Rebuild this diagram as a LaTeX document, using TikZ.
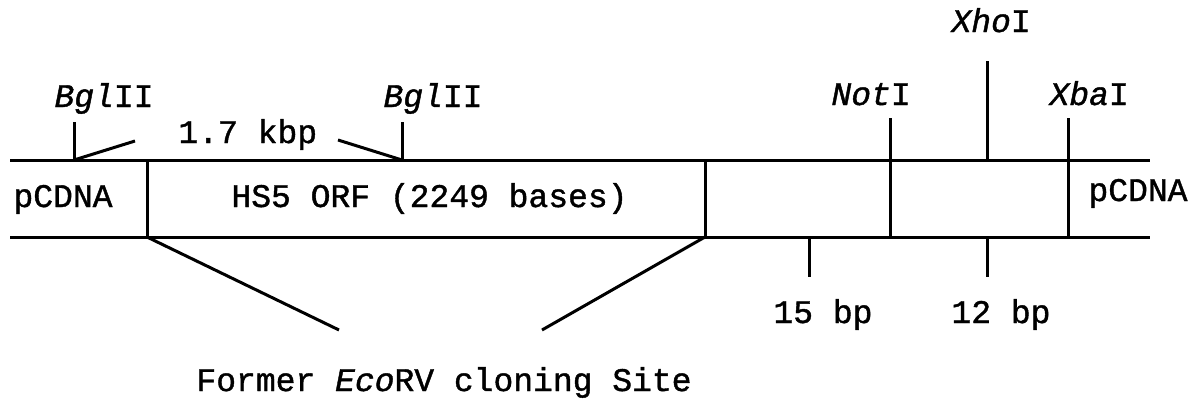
\documentclass[tikz,border=0pt]{standalone}
\usepackage{fontspec}
\setmainfont{Liberation Mono}[FakeBold=1.2,ItalicFeatures={FakeBold=1.2}]

\begin{document}
\begin{tikzpicture}[x=1pt,y=-1pt,line width=3pt,
    lbl/.style={font=\fontsize{33}{38}\selectfont,inner sep=0pt,anchor=base west}]
    \useasboundingbox (0,0) rectangle (1194,405);
    % insert strands
    \coordinate (topL) at (10,160);  \coordinate (topR) at (1150,160);
    \coordinate (botL) at (10,237);  \coordinate (botR) at (1150,237);
    \draw (topL)--(topR);
    \draw (botL)--(botR);
    \coordinate (d1t) at (147,160); \coordinate (d1b) at (147,237);
    \coordinate (d2t) at (705,160); \coordinate (d2b) at (705,237);
    \draw (d1t)--(d1b);
    \draw (d2t)--(d2b);
    % sites
    \node[lbl] (bgl1) at (53,107) {\textit{Bgl}II};
    \node[lbl] (bgl2) at (382,107) {\textit{Bgl}II};
    \node[lbl] (kbp) at (177,143) {1.7 kbp};
    \node[lbl] (not) at (830,105) {\textit{Not}I};
    \node[lbl] (xho) at (950,32) {\textit{Xho}I};
    \node[lbl] (xba) at (1048,105) {\textit{Xba}I};
    \coordinate (bgl1t) at (74,122);  \coordinate (bgl1b) at (74,160);
    \coordinate (bgl2t) at (402,122); \coordinate (bgl2b) at (402,160);
    \coordinate (nott) at (890,118);  \coordinate (notb) at (890,237);
    \coordinate (xhot) at (987,61);   \coordinate (xhob) at (987,160);
    \coordinate (xbat) at (1068,118); \coordinate (xbab) at (1068,237);
    \draw (bgl1t)--(bgl1b);
    \draw (bgl2t)--(bgl2b);
    \draw (nott)--(notb);
    \draw (xhot)--(xhob);
    \draw (xbat)--(xbab);
    \coordinate (kl) at (135,141); \coordinate (kr) at (338,140);
    \draw (kl)--(bgl1b);
    \draw (kr)--(bgl2b);
    % segments
    \node[lbl] (pc1) at (12,207) {pCDNA};
    \node[lbl] (orf) at (230,207) {HS5 ORF (2249 bases)};
    \node[lbl] (pc2) at (1087,201) {pCDNA};
    % spacers
    \coordinate (s1t) at (809,237); \coordinate (s1b) at (809,277);
    \coordinate (s2t) at (987,237); \coordinate (s2b) at (987,277);
    \draw (s1t)--(s1b);
    \draw (s2t)--(s2b);
    \node[lbl] (bp15) at (772,323) {15 bp};
    \node[lbl] (bp12) at (950,323) {12 bp};
    % former site
    \coordinate (fl) at (339,330); \coordinate (fr) at (542,330);
    \draw (d1b)--(fl);
    \draw (d2b)--(fr);
    \node[lbl] (eco) at (195,391) {Former \textit{Eco}RV cloning Site};
\end{tikzpicture}
\end{document}
